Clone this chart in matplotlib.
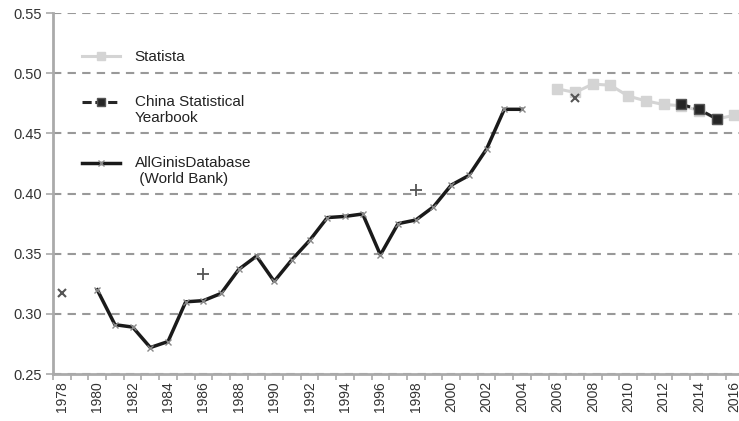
import matplotlib.pyplot as plt
from matplotlib.legend_handler import HandlerLine2D
from matplotlib.transforms import Affine2D

plt.rcParams['font.family'] = ['Liberation Sans', 'DejaVu Sans']

# AllGinisDatabase (World Bank) - line with small x markers
wb_years = [1980, 1981, 1982, 1983, 1984, 1985, 1986, 1987, 1988, 1989, 1990,
            1991, 1992, 1993, 1994, 1995, 1996, 1997, 1998, 1999, 2000,
            2001, 2002, 2003, 2004]
wb_gini = [0.320, 0.291, 0.289, 0.272, 0.277, 0.310, 0.311, 0.317, 0.337, 0.348, 0.327,
           0.345, 0.361, 0.380, 0.381, 0.383, 0.349, 0.375, 0.378, 0.389, 0.407,
           0.415, 0.437, 0.470, 0.470]

# Statista
st_years = [2006, 2007, 2008, 2009, 2010, 2011, 2012, 2013, 2014, 2015, 2016]
st_gini = [0.487, 0.484, 0.491, 0.490, 0.481, 0.477, 0.474, 0.473, 0.469, 0.462, 0.465]

# China Statistical Yearbook
cs_years = [2013, 2014, 2015]
cs_gini = [0.474, 0.470, 0.462]

# isolated estimates
x_years = [1978, 2007]
x_gini = [0.317, 0.479]
plus_years = [1986, 1998]
plus_gini = [0.333, 0.403]


class TopHandler(HandlerLine2D):
    # put the legend handle next to the first line of a two-line label
    def __init__(self, shift=0, **kw):
        super().__init__(**kw)
        self.shift = shift

    def create_artists(self, legend, orig_handle, xdescent, ydescent,
                       width, height, fontsize, trans):
        return super().create_artists(legend, orig_handle, xdescent, ydescent,
                                      width, height, fontsize,
                                      trans + Affine2D().translate(0, self.shift))


fig = plt.figure(figsize=(7.39, 4.21), dpi=100)
ax = fig.add_axes([0.0717, 0.1116, 0.934, 0.8574])

ax.yaxis.grid(True, linestyle=(0, (4, 3)), color='#999999', linewidth=1.5)
ax.set_axisbelow(True)

l1, = ax.plot(st_years, st_gini, color='#d4d4d4', linewidth=2.2, marker='s',
              markersize=7.5, markeredgecolor='#d4d4d4', label='Statista', zorder=3)
l2, = ax.plot(cs_years, cs_gini, color='#262626', linewidth=2.2, linestyle=(0, (3, 1.2)),
              marker='s', markersize=7.5, markerfacecolor='#262626',
              markeredgecolor='#555555', label='China Statistical\nYearbook', zorder=4)
l3, = ax.plot(wb_years, wb_gini, color='#1a1a1a', linewidth=2.5, marker='x',
              markersize=5, markeredgecolor='#888888', markeredgewidth=1.0,
              label='AllGinisDatabase\n (World Bank)', zorder=3)
ax.plot(x_years, x_gini, linestyle='none', marker='x', markersize=6,
        markeredgecolor='#555555', markeredgewidth=1.5, zorder=3)
ax.plot(plus_years, plus_gini, linestyle='none', marker='+', markersize=8,
        markeredgecolor='#555555', markeredgewidth=1.3, zorder=3)

ax.set_xlim(1977.5, 2016.5)
ax.set_ylim(0.25, 0.55)
ax.set_yticks([0.25, 0.30, 0.35, 0.40, 0.45, 0.50, 0.55])
ax.set_yticklabels(['%.2f' % v for v in ax.get_yticks()], fontsize=10.5, color='#333333')
ax.set_xticks(range(1978, 2017, 2))
ax.set_xticklabels([str(y) for y in range(1978, 2017, 2)], rotation=90,
                   fontsize=10, color='#333333')
ax.tick_params(axis='x', length=0, pad=5)
ax.set_xticks([y + 0.5 for y in range(1977, 2017)], minor=True)
ax.tick_params(axis='x', which='minor', length=4, width=1.2, color='#aaaaaa')
ax.tick_params(axis='y', length=5, width=1.2, color='#aaaaaa', pad=3)

for s in ['top', 'right']:
    ax.spines[s].set_visible(False)
for s in ['left', 'bottom']:
    ax.spines[s].set_color('#aaaaaa')
    ax.spines[s].set_linewidth(2)

leg = ax.legend(handles=[l1, l2, l3], loc='upper left', bbox_to_anchor=(0.022, 0.935),
                frameon=False, fontsize=11, handlelength=2.5, labelspacing=2.0,
                handletextpad=0.95, labelcolor='#222222', markerscale=0.8,
                handler_map={l2: TopHandler(shift=8), l3: TopHandler(shift=8)})

plt.savefig('out.png', dpi=100)
